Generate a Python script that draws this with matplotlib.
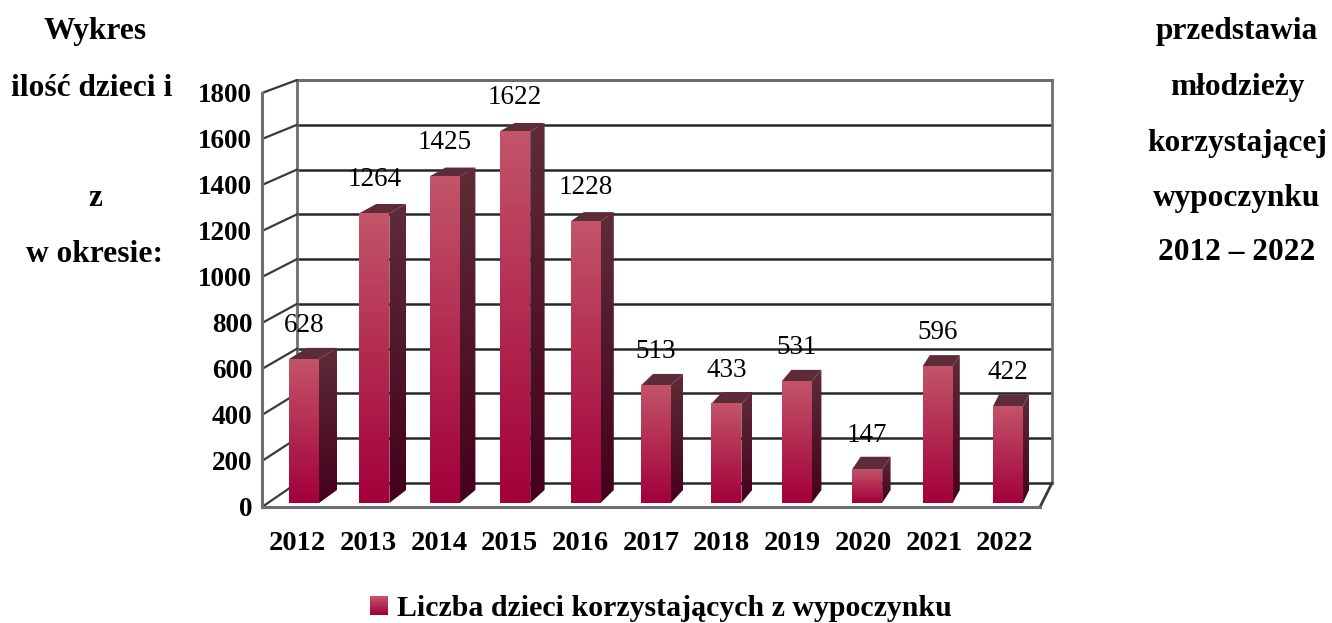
import matplotlib
matplotlib.use("Agg")
import matplotlib.pyplot as plt
import numpy as np
from matplotlib.legend_handler import HandlerBase
from matplotlib.patches import ConnectionPatch, Patch, Polygon, Rectangle

plt.rcParams["font.family"] = ["Liberation Serif", "DejaVu Serif"]

lata = ["2012", "2013", "2014", "2015", "2016", "2017", "2018", "2019", "2020", "2021", "2022"]
liczba_dzieci = [628, 1264, 1425, 1622, 1228, 513, 433, 531, 147, 596, 422]
skala_y = [0, 200, 400, 600, 800, 1000, 1200, 1400, 1600, 1800]
etykieta_serii = "Liczba dzieci korzystających z wypoczynku"

tekst_lewy = [("Wykres", 95, 32), ("ilość dzieci i", 92, 88), ("z", 95, 198), ("w okresie:", 95, 254)]
tekst_prawy = [("przedstawia", 1237, 32), ("młodzieży", 1237, 88), ("korzystającej", 1237, 143),
               ("wypoczynku", 1237, 198), ("2012 – 2022", 1237, 253)]

W, H = 1332, 623
PRZOD_GORA = "#c25468"
PRZOD_DOL = "#a3003a"
BOK_GORA = "#5e2c38"
BOK_DOL = "#45001c"
SZARY = "#6e6e6e"
CIEMNY = "#262626"


def osie_px(fig, x0, x1, y_gora, y_dol, **kw):
    # pozycja osi podana w pikselach obrazka
    return fig.add_axes([x0 / W, 1 - y_dol / H, (x1 - x0) / W, (y_dol - y_gora) / H], **kw)


def gradient(c1, c2, n=64):
    a = np.array(matplotlib.colors.to_rgb(c1))
    b = np.array(matplotlib.colors.to_rgb(c2))
    t = np.linspace(0, 1, n)[:, None]
    return (a + (b - a) * t)[:, None, :]


class GradientHandler(HandlerBase):
    def create_artists(self, legend, orig, xd, yd, width, height, fontsize, trans):
        n = 12
        kolory = gradient(PRZOD_GORA, PRZOD_DOL, n)[:, 0, :]
        pasy = []
        for i in range(n):
            pasy.append(Rectangle((xd * -1, height * (1 - (i + 1) / n) - yd), width, height / n + 0.3,
                                  fc=kolory[i], ec="none", transform=trans))
        return pasy


fig = plt.figure(figsize=(W / 100, H / 100), dpi=100, facecolor="white")

# tylna sciana
sciana = osie_px(fig, 297, 1052, 80, 483, zorder=1)
sciana.set_xlim(0, 1)
sciana.set_ylim(0, 1800)
sciana.set_xticks([])
sciana.set_yticks(skala_y)
sciana.tick_params(left=False, labelleft=False)
sciana.grid(True, axis="y", color=CIEMNY, lw=1.8, clip_on=False)
sciana.spines["bottom"].set_visible(False)
for s in ["left", "right", "top"]:
    sciana.spines[s].set_color(SZARY)
    sciana.spines[s].set_linewidth(2)
    sciana.spines[s].set_zorder(3)

# przednia os z opisami
przod = osie_px(fig, 262, 1040, 93, 507, zorder=3)
przod.patch.set_alpha(0)
przod.set_xlim(-0.5, 10.5)
przod.set_ylim(0, 1800)
przod.set_xticks(range(len(lata)))
przod.set_xticklabels(lata, fontsize=20.5, fontweight="bold")
przod.set_yticks(skala_y)
przod.set_yticklabels([str(v) for v in skala_y], fontsize=19.5, fontweight="bold")
przod.tick_params(length=0)
przod.tick_params(axis="x", pad=17.5)
przod.tick_params(axis="y", pad=7)
przod.spines["top"].set_visible(False)
przod.spines["right"].set_visible(False)
for s in ["left", "bottom"]:
    przod.spines[s].set_color(SZARY)
    przod.spines[s].set_linewidth(2.2)

# skosne kreski miedzy osia a sciana
for v in skala_y:
    kreska = ConnectionPatch((0, v), (0, v), coordsA=przod.get_yaxis_transform(),
                             coordsB=sciana.get_yaxis_transform(), color="#3a3a3a", lw=1.6, zorder=2)
    fig.add_artist(kreska)
fig.add_artist(ConnectionPatch((1, 0), (1, 0), coordsA=przod.transAxes, coordsB=sciana.transAxes,
                               color="#3a3a3a", lw=2, zorder=2))

# slupki
slupki = osie_px(fig, 268.8, 1043.2, 90.3, 503, zorder=4)
slupki.patch.set_alpha(0)
slupki.axis("off")
px_x = 70.4
px_y = 412.7 / 1800
pol = 30 / px_x / 2

for i, v in enumerate(liczba_dzieci):
    dx = (18 - 1.2 * i) / px_x
    dy_gora = (13 - 0.003 * v) / px_y
    dy_dol = 13 / px_y
    lewo, prawo = i - pol, i + pol

    im = slupki.imshow(gradient(BOK_GORA, BOK_DOL), extent=[prawo, prawo + dx, 0, v + dy_gora],
                       aspect="auto", zorder=2)
    bok = Polygon([(prawo, 0), (prawo + dx, dy_dol), (prawo + dx, v + dy_gora), (prawo, v)],
                  transform=slupki.transData, fc="none", ec="none")
    slupki.add_patch(bok)
    im.set_clip_path(bok)

    slupki.add_patch(Polygon([(lewo, v), (prawo, v), (prawo + dx, v + dy_gora), (lewo + dx, v + dy_gora)],
                             fc=BOK_GORA, ec="none", zorder=3))
    slupki.imshow(gradient(PRZOD_GORA, PRZOD_DOL), extent=[lewo, prawo, 0, v], aspect="auto", zorder=3)
    slupki.annotate(str(v), (i, v), xytext=(0, 33.5 * 0.72), textcoords="offset points", ha="center",
                    va="center", fontsize=19.5, color="black", zorder=5, annotation_clip=False)

slupki.set_xlim(-0.5, 10.5)
slupki.set_ylim(0, 1800)

for tekst, x, y in tekst_lewy + tekst_prawy:
    fig.text(x / W, 1 - y / H, tekst, ha="center", va="center", fontsize=22.6, fontweight="bold")

fig.legend(handles=[Patch(label=etykieta_serii)], handler_map={Patch: GradientHandler()},
           loc="center", bbox_to_anchor=(661 / W, 1 - 609 / H), frameon=False, prop={"size": 21.5, "weight": "bold"},
           handlelength=0.6, handleheight=0.6, handletextpad=0.3, borderpad=0, borderaxespad=0)

fig.savefig("out.png", dpi=100)
